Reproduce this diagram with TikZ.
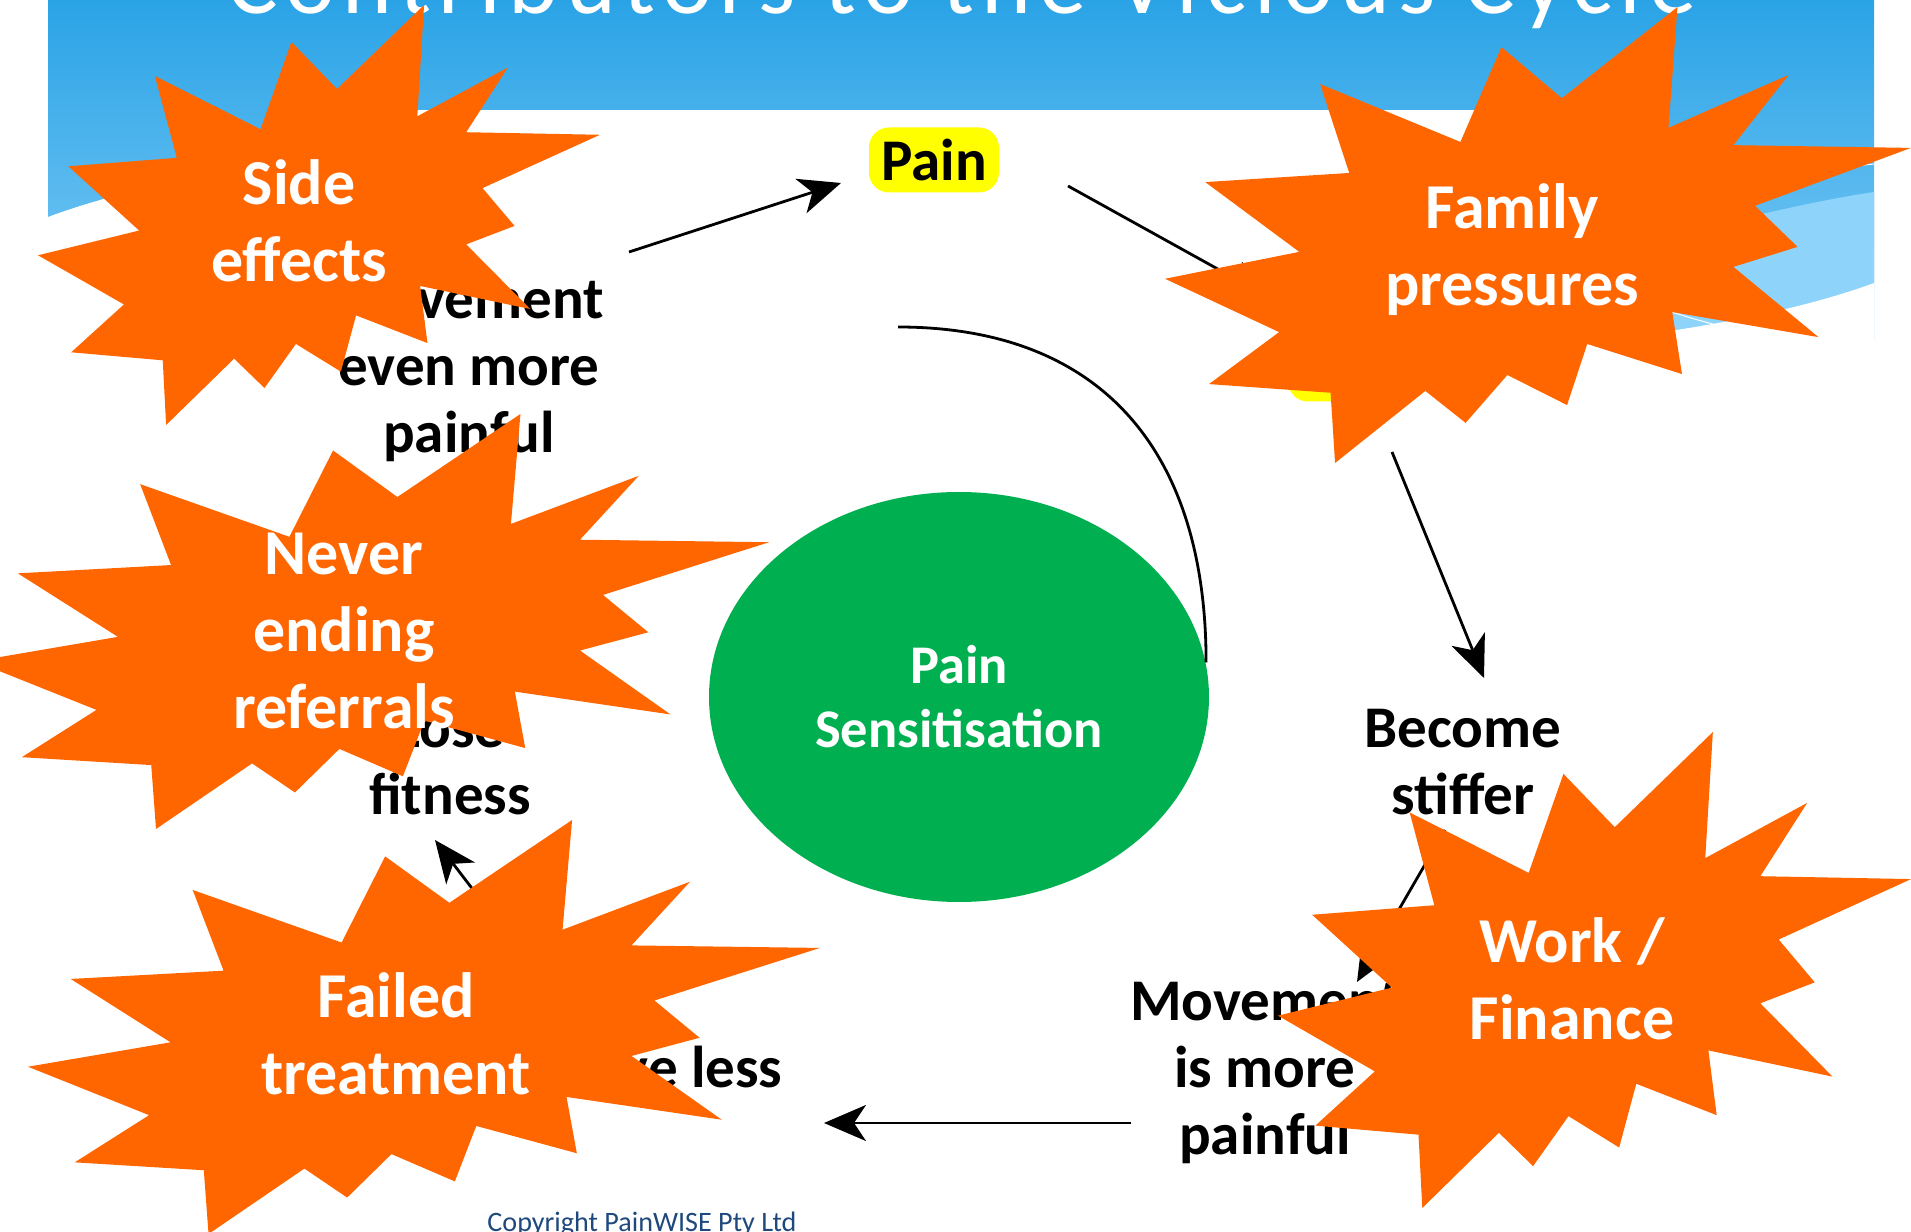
\documentclass[tikz,border=0pt]{standalone}
\usepackage{fontspec}
\setmainfont{Carlito}
\usetikzlibrary{calc,arrows.meta,shapes.geometric}
\definecolor{skytop}{HTML}{2AA3E6}
\definecolor{skylow}{HTML}{7ECBF6}
\definecolor{skypale}{HTML}{8DD3FA}
\definecolor{flame}{HTML}{FF6600}
\definecolor{sensgreen}{HTML}{00B050}
\definecolor{hilite}{HTML}{FFFF00}
\definecolor{copyblue}{HTML}{1F497D}
\newcommand{\seal}[4]{\fill[flame,shift={(#1,#2)},xscale=#3,yscale=#4]
  (0.687,0) -- (0.675,0.265) -- (0.836,0.149) -- (0.762,0.303) -- (1,0.309) -- (0.791,0.436)
  -- (0.848,0.526) -- (0.762,0.570) -- (0.876,0.724) -- (0.680,0.669) -- (0.693,0.805)
  -- (0.566,0.739) -- (0.539,0.873) -- (0.459,0.807) -- (0.403,0.912) -- (0.349,0.842)
  -- (0.228,1) -- (0.222,0.846) -- (0.059,0.827) -- (0.153,0.713) -- (0,0.596) -- (0.180,0.537)
  -- (0.054,0.384) -- (0.247,0.364) -- (0.208,0.169) -- (0.396,0.296) -- (0.451,0.088)
  -- (0.532,0.200) -- cycle;}
\tikzset{
  lbl/.style={font=\fontsize{16.8pt}{19.1pt}\selectfont\bfseries,align=center,inner sep=0pt},
  bursttxt/.style={font=\fontsize{18.2pt}{21.9pt}\selectfont\bfseries,text=white,align=center,inner sep=0pt},
  arr/.style={-{Stealth[length=4.2mm,width=3.6mm,inset=1.2mm]},line width=0.28mm,black},
  hibox/.style={fill=hilite,rounded corners=2mm,minimum width=13mm,minimum height=6.5mm,inner sep=0pt},
}

\begin{document}
\begin{tikzpicture}[x=0.1mm,y=-0.1mm]
\useasboundingbox (0,0) rectangle (1911,1232);
\clip (0,0) rectangle (1911,1232);
\fill[white] (0,0) rectangle (1911,1232);
\shade[top color=skytop,bottom color=skylow] (48,0) rectangle (1874,340);
\fill[skypale] (1560,265) .. controls (1700,228) and (1800,203) .. (1874,192) -- (1874,283)
  .. controls (1800,310) and (1700,330) .. (1560,345) -- cycle;
\fill[white] (1560,345) .. controls (1700,330) and (1800,310) .. (1874,283) -- (1874,400) -- (1560,400) -- cycle;
\fill[white] (48,217) .. controls (120,190) and (250,160) .. (400,150) -- (400,400) -- (48,400) -- cycle;
\draw[white,line width=0.1mm] (1650,305) .. controls (1690,318) .. (1735,330);
\draw[white,line width=0.1mm] (1835,168) -- (1874,164);
\fill[white] (300,110) rectangle (1560,1232);
\node[font=\fontsize{27pt}{30pt}\selectfont\addfontfeatures{LetterSpace=8},text=white,anchor=base] (title) at (962,14) {Contributors to the Vicious Cycle};

\node[lbl,hibox] (pain) at (934,160) {Pain};
\node[hibox,minimum width=13.2mm,minimum height=6.7mm] (tense) at (1354,368) {};
\node[lbl] (stiff) at (1463,762) {Become\\stiffer};
\node[lbl] (mvmore) at (1265,1073) {Movement\\is more\\painful};
\node[lbl] (moveless) at (660,1067) {Move less};
\node[lbl] (lose) at (450,762) {Lose\\fitness};
\node[lbl] (mvpain) at (469,371) {Movement\\even more\\painful};
\node[ellipse,fill=sensgreen,minimum width=50mm,minimum height=41mm,inner sep=0pt,text=white,
  font=\fontsize{15.5pt}{18.2pt}\selectfont\bfseries,align=center] (sens) at (959,697) {Pain\\Sensitisation};
\draw[arr] ($(mvpain)+(160,-119)$) -- ($(pain)+(-93,23)$);
\draw[arr] ($(pain)+(134,26)$) -- ($(tense)+(-84,-70)$);
\draw[arr] ($(tense)+(38,84)$) -- ($(stiff)+(21,-84)$);
\draw[arr] ($(stiff)+(-18,68)$) -- ($(mvmore)+(92,-91)$);
\draw[arr] ($(mvmore)+(-134,50)$) -- ($(moveless)+(164,56)$);
\draw[arr] ($(moveless)+(-160,-142)$) -- ($(lose)+(-15,78)$);
\coordinate (arcstart) at ($(pain)+(-36,167)$);
\draw[line width=0.28mm] (arcstart) .. controls +(200,0) and +(0,-215) .. (sens.8);

\seal{38}{5}{562}{420}
\node[bursttxt] (side) at (299,221) {Side\\effects};
\seal{-25}{414}{794}{415}
\node[bursttxt] (never) at (344,631) {Never\\ending\\referrals};
\seal{28}{820}{792}{414}
\node[bursttxt] (failed) at (396,1034) {Failed\\treatment};
\seal{1165}{7}{746}{456}
\node[bursttxt] (family) at (1512,250) {Family\\pressures};
\seal{1278}{732}{633}{476}
\node[bursttxt] (work) at (1572,979) {Work /\\Finance};

\node[font=\fontsize{8pt}{9pt}\selectfont,text=copyblue,anchor=base] (copy) at (642,1231) {Copyright PainWISE Pty Ltd};
\end{tikzpicture}
\end{document}
